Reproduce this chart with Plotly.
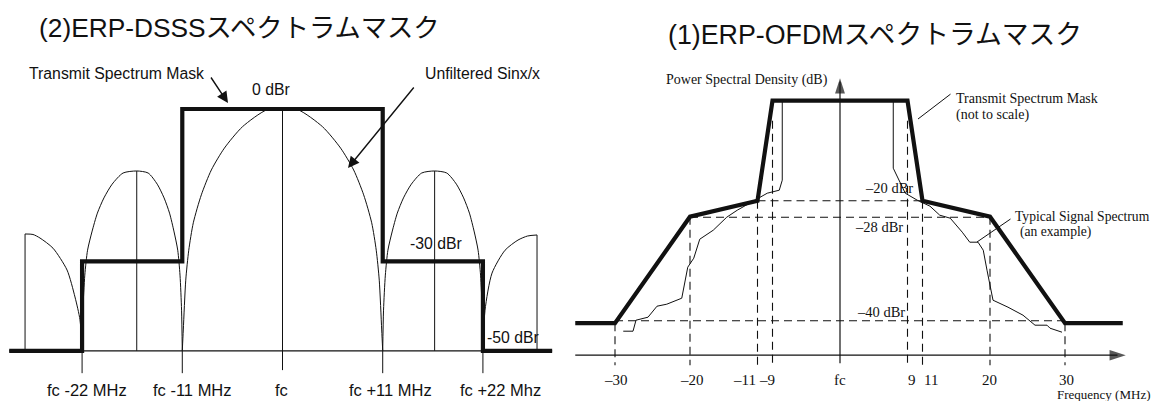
import plotly.graph_objects as go

W, H = 1156, 401

# ================= (2) ERP-DSSS spectrum mask (left panel) =================
# frequency offset from fc in MHz; level in dBr as drawn in the (not-to-scale) sketch
dsss_mask_freq = [-30.0, -22, -22, -11, -11, 11, 11, 22, 22, 29.6]
dsss_mask_level = [-47.6, -47.6, -30, -30, 0, 0, -30, -30, -47.6, -47.6]
dsss_floor = -47.6
dsss_baseline_freq = [-30.0, 29.6]

# unfiltered sin(x)/x lobes
dsss_main_freq = [-11, -10.89, -10.62, -10.29, -9.79, -8.91, -7.81, -6.38, -4.4, -1.76, 0,
                  1.76, 4.4, 6.38, 7.81, 8.91, 9.79, 10.29, 10.62, 10.89, 11]
dsss_main_level = [-47.6, -43.5, -33.7, -27.8, -22.4, -16.9, -12.0, -7.7, -3.5, -0.2, 0,
                   -0.2, -3.5, -7.7, -12.0, -16.9, -22.4, -27.8, -33.7, -43.5, -47.6]
dsss_side_left_freq = [-22, -21.91, -21.7, -21.4, -20.92, -20.32, -19.6, -18.7, -17.5, -16.0,
                       -14.75, -13.75, -13.0, -12.4, -11.9, -11.5, -11.25, -11.08, -11]
dsss_side_right_freq = [11, 11.09, 11.29, 11.57, 12.03, 12.6, 13.28, 14.14, 15.28, 16.7,
                        18.03, 19.09, 19.88, 20.52, 21.05, 21.47, 21.74, 21.92, 22]
dsss_side_level = [-47.6, -39.6, -32.7, -27.8, -24.2, -20.5, -17.5, -14.8, -12.6, -12.2,
                   -12.6, -14.8, -17.5, -20.5, -24.2, -27.8, -32.7, -39.6, -47.6]
dsss_outer_left_freq = [-28.26, -27.39, -26.62, -25.19, -23.65, -22.78, -22.23, -22]
dsss_outer_left_level = [-24.6, -24.7, -25.4, -27.4, -31.7, -37.0, -41.5, -47.6]
dsss_outer_right_freq = [22, 22.23, 23.0, 24.43, 25.85, 26.9, 27.94]
dsss_outer_right_level = [-47.6, -39.6, -32.3, -27.8, -25.8, -25.0, -24.8]

# thin vertical lines at the lobe centres
dsss_center_freq = [-28.26, -16.0, 0, 16.7, 27.94]
dsss_center_top = [-24.6, -12.2, 0, -12.2, -24.8]
dsss_tick_freq = [-22, -11, 0, 11, 22]
dsss_tick_text = ["fc -22 MHz", "fc -11 MHz", "fc", "fc +11 MHz", "fc +22 Mhz"]

# ================= (1) ERP-OFDM spectrum mask (right panel) =================
ofdm_mask_freq = [-35.3, -30, -20, -11, -9, 9, 11, 20, 30, 37.7]
ofdm_mask_level = [-44.5, -44.5, -23.2, -20, 0, 0, -20, -23.2, -44.5, -44.5]

ofdm_signal_freq = [-28.9, -27.6, -27.2, -25.6, -24.4, -23.1, -21.1, -20.3, -19.5, -18.7,
                    -16.9, -15.1, -13.7, -12.0, -9.7, -8.1, -7.7, -7.7,
                    7.1, 7.1, 8.0, 8.7, 10.3, 12.0, 13.3, 14.7, 16.3, 17.3,
                    18.4, 19.1, 19.6, 20.4, 22.4, 24.4, 26.0, 27.6, 28.0, 29.6]
ofdm_signal_level = [-46.1, -46.1, -43.9, -43.3, -41.1, -40.7, -39.5, -33.3, -31.5, -27.7,
                     -25.9, -23.3, -21.9, -20.5, -18.5, -17.9, -15.9, 0,
                     0, -13.5, -16.3, -18.5, -19.9, -21.1, -22.9, -23.5, -26.3, -28.3,
                     -28.3, -29.9, -33.9, -39.9, -41.3, -42.9, -44.9, -44.9, -45.5, -46.3]

# dashed reference levels (-20, -28, -40 dBr as drawn) and their frequency spans
ofdm_ref_level = [-20, -23.3, -44.0]
ofdm_ref_span = [11, 20, 30]
ofdm_ref_text = ["\u201320 dBr", "\u201328 dBr", "\u201340 dBr"]
# dashed frequency markers and the drawn level where each starts
ofdm_marker_freq = [-30, -20, -11, -9, 9, 11, 20, 30]
ofdm_marker_top = [-44.5, -23.2, -20, -4, -4, -20, -23.2, -44.5]
ofdm_tick_freq = [-30, -20, -11, -9, 0, 9, 11, 20, 30]
ofdm_tick_text = ["\u201330", "\u201320", "\u201311", "\u20139", "fc", "9", "11", "20", "30"]

# ---------------- layout geometry ----------------
L_DOM = [0.0, 0.49]
R_DOM = [0.49, 1.0]
L_FC_PX, L_PX_MHZ, L_TOP_PY, L_PX_DB = 282.5, 9.11, 109.0, 5.08
R_FC_PX, R_PX_MHZ, R_TOP_PY, R_PX_DB = 840.0, 7.5, 100.7, 5.0

BLACK = "#111111"
SANS = "Liberation Sans, Arial, sans-serif"
SERIF = "Liberation Serif, Times New Roman, serif"
TITLE = "Liberation Sans, Arial, Noto Sans CJK JP, sans-serif"


def join(*segs):
    xs, ys = [], []
    for sx, sy in segs:
        if xs:
            xs.append(None)
            ys.append(None)
        xs += list(sx)
        ys += list(sy)
    return xs, ys


fig = go.Figure()

# ---- left panel traces ----
lx, ly = join((dsss_baseline_freq, [dsss_floor, dsss_floor]))
fig.add_trace(go.Scatter(x=lx, y=ly, mode="lines", line=dict(color=BLACK, width=1.2),
                         xaxis="x", yaxis="y"))

lobes = join((dsss_outer_left_freq, dsss_outer_left_level),
             (dsss_side_left_freq, dsss_side_level),
             (dsss_main_freq, dsss_main_level),
             (dsss_side_right_freq, dsss_side_level),
             (dsss_outer_right_freq, dsss_outer_right_level))
fig.add_trace(go.Scatter(x=lobes[0], y=lobes[1], mode="lines",
                         line=dict(color=BLACK, width=1, shape="spline", smoothing=0.7),
                         xaxis="x", yaxis="y"))

vsegs = []
for f, top in zip(dsss_center_freq, dsss_center_top):
    bottom = -51.4 if f == 0 else dsss_floor
    vsegs.append(([f, f], [bottom, top]))
for f in dsss_tick_freq:
    if f != 0:
        vsegs.append(([f, f], [dsss_floor, -52.0]))
vx, vy = join(*vsegs)
fig.add_trace(go.Scatter(x=vx, y=vy, mode="lines", line=dict(color=BLACK, width=1),
                         xaxis="x", yaxis="y"))

fig.add_trace(go.Scatter(x=dsss_mask_freq, y=dsss_mask_level, mode="lines",
                         line=dict(color=BLACK, width=4.2), xaxis="x", yaxis="y"))

# ---- right panel traces ----
dsegs = []
for lev, span in zip(ofdm_ref_level, ofdm_ref_span):
    dsegs.append(([-span, span], [lev, lev]))
for f, top in zip(ofdm_marker_freq, ofdm_marker_top):
    dsegs.append(([f, f], [top, -52.9]))
dx, dy = join(*dsegs)
fig.add_trace(go.Scatter(x=dx, y=dy, mode="lines",
                         line=dict(color=BLACK, width=1.1, dash="8px,5px"),
                         xaxis="x2", yaxis="y2"))

ax_x, ax_y = join(([-35.3, 37.0], [-50.9, -50.9]), ([0, 0], [-52.5, 3.8]))
fig.add_trace(go.Scatter(x=ax_x, y=ax_y, mode="lines", line=dict(color=BLACK, width=1.2),
                         xaxis="x2", yaxis="y2"))
fig.add_trace(go.Scatter(x=[38.1, 0], y=[-50.9, 4.5], mode="markers",
                         marker=dict(symbol="arrow", angle=[90, 0], size=[17, 16],
                                     color=BLACK, line=dict(width=0)),
                         xaxis="x2", yaxis="y2"))

fig.add_trace(go.Scatter(x=ofdm_signal_freq, y=ofdm_signal_level, mode="lines",
                         line=dict(color=BLACK, width=1), xaxis="x2", yaxis="y2"))
fig.add_trace(go.Scatter(x=ofdm_mask_freq, y=ofdm_mask_level, mode="lines",
                         line=dict(color=BLACK, width=4.2), xaxis="x2", yaxis="y2"))

# ---------------- annotations ----------------
ann = []


def px(xp):
    return xp / W


def py(yp):
    return 1 - yp / H


def text(t, x, y, size, family, xanchor="left", yanchor="middle", xref="paper", xshift=0):
    ann.append(dict(text=t, x=x if xref != "paper" else px(x), y=py(y), xref=xref, yref="paper",
                    xanchor=xanchor, yanchor=yanchor, showarrow=False, xshift=xshift,
                    font=dict(size=size, family=family, color=BLACK)))


def arrow(hx, hy, tx, ty, head=2, size=1.0, width=1.2):
    ann.append(dict(text="", x=px(hx), y=py(hy), xref="paper", yref="paper",
                    ax=tx - hx, ay=ty - hy, showarrow=True, arrowhead=head,
                    arrowsize=size, arrowwidth=width, arrowcolor=BLACK,
                    standoff=0, startstandoff=0))


# titles
text("(2)ERP-DSSSスペクトラムマスク", 37, 28, 26.3, TITLE)
text("(1)ERP-OFDMスペクトラムマスク", 666, 35, 26.8, TITLE)

# left panel labels
text("Transmit Spectrum Mask", 27, 73, 15.8, SANS)
arrow(228, 103, 210, 76, head=2, size=1.6, width=1.4)
text("0 dBr", 250, 89, 15.8, SANS)
text("Unfiltered Sinx/x", 423, 73, 15.8, SANS)
arrow(348, 168, 415, 86, head=2, size=1.6, width=1.4)
text("-30 dBr", 408, 243, 15.8, SANS)
text("-50 dBr", 485, 337, 15.8, SANS)
dsss_label_shift = [5, 10, -1, 8, 18]
for f, t, s in zip(dsss_tick_freq, dsss_tick_text, dsss_label_shift):
    text(t, f, 390, 16.5, SANS, xanchor="center", xref="x", xshift=s)

# right panel labels
text("Power Spectral Density (dB)", 830, 80, 14, SERIF, xanchor="right")
text("Transmit Spectrum Mask", 954, 98, 14, SERIF)
text("(not to scale)", 954, 115, 14, SERIF)
arrow(918, 119, 952, 93, head=0, width=1)
ref_text_pos = [(863, 188), (853, 227), (855, 312)]
for t, (xp, yp) in zip(ofdm_ref_text, ref_text_pos):
    text(t, xp, yp, 14.5, SERIF)
text("Typical Signal Spectrum", 1013, 216, 13.6, SERIF)
text("(an example)", 1018, 232, 13.6, SERIF)
arrow(977, 242, 1012, 218, head=0, width=1)
ofdm_label_shift = [1, 2, -13, -6, 0, 4, 8, -1, 1]
for f, t, s in zip(ofdm_tick_freq, ofdm_tick_text, ofdm_label_shift):
    text(t, f, 380, 15, SERIF, xanchor="center", xref="x2", xshift=s)
text("Frequency (MHz)", 1153, 394, 13, SERIF, xanchor="right")

hidden = dict(visible=False, fixedrange=True)
fig.update_layout(
    width=W, height=H, margin=dict(l=0, r=0, t=0, b=0, pad=0),
    paper_bgcolor="white", plot_bgcolor="white", showlegend=False, hovermode=False,
    xaxis=dict(domain=L_DOM, range=[(L_DOM[0] * W - L_FC_PX) / L_PX_MHZ,
                                    (L_DOM[1] * W - L_FC_PX) / L_PX_MHZ], **hidden),
    yaxis=dict(domain=[0, 1], range=[-(H - L_TOP_PY) / L_PX_DB, L_TOP_PY / L_PX_DB], **hidden),
    xaxis2=dict(domain=R_DOM, range=[(R_DOM[0] * W - R_FC_PX) / R_PX_MHZ,
                                     (R_DOM[1] * W - R_FC_PX) / R_PX_MHZ], anchor="y2", **hidden),
    yaxis2=dict(domain=[0, 1], range=[-(H - R_TOP_PY) / R_PX_DB, R_TOP_PY / R_PX_DB],
                anchor="x2", **hidden),
    annotations=ann,
)

fig.write_html("out.html", config={"displayModeBar": False, "staticPlot": True},
               post_script="document.body.style.margin='0';document.body.style.overflow='hidden';")
